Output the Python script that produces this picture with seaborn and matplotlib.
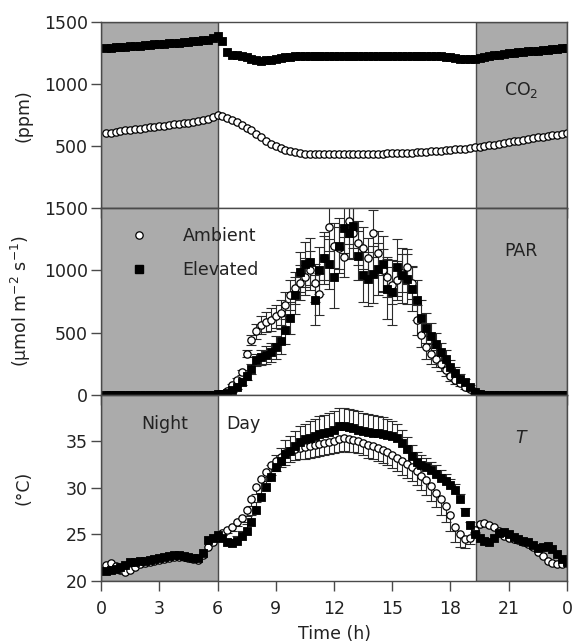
import numpy as np
import matplotlib
matplotlib.use("Agg")
import matplotlib.pyplot as plt
from matplotlib.lines import Line2D
import seaborn as sns

# Sampling times (h), every 15 min over one diel cycle
hours = np.arange(1, 97) * 0.25

# CO2 concentration (ppm)
co2_ambient = [
    605, 610, 616, 621, 627, 632, 637, 642,
    647, 652, 657, 662, 667, 672, 677, 682,
    686, 691, 696, 701, 712, 722, 735, 748,
    742, 728, 712, 695, 672, 650, 628, 600,
    572, 546, 522, 502, 486, 470, 458, 450,
    444, 440, 437, 435, 434, 434, 434, 435,
    435, 436, 436, 437, 437, 438, 438, 439,
    440, 441, 442, 443, 444, 445, 447, 449,
    451, 453, 455, 458, 461, 464, 467, 470,
    474, 477, 481, 485, 490, 496, 502, 508,
    514, 520, 527, 533, 540, 546, 553, 559,
    565, 571, 577, 583, 589, 594, 600, 605,
]
co2_elevated = [
    1290, 1293, 1296, 1299, 1302, 1305, 1308, 1311,
    1314, 1317, 1320, 1323, 1326, 1329, 1332, 1335,
    1338, 1341, 1344, 1348, 1352, 1358, 1372, 1385,
    1345, 1260, 1235, 1232, 1228, 1215, 1200, 1192,
    1190, 1192, 1198, 1205, 1212, 1218, 1222, 1224,
    1225, 1226, 1226, 1227, 1227, 1228, 1228, 1228,
    1228, 1228, 1228, 1228, 1228, 1228, 1228, 1228,
    1228, 1227, 1227, 1227, 1226, 1226, 1226, 1226,
    1226, 1226, 1225, 1225, 1225, 1224, 1222, 1220,
    1212, 1206, 1202, 1200, 1203, 1212, 1220, 1226,
    1232, 1237, 1242, 1247, 1251, 1255, 1259, 1263,
    1266, 1270, 1273, 1277, 1280, 1284, 1287, 1291,
]

# Photosynthetically active radiation (umol m-2 s-1) and its SE
par_ambient = [
    0, 0, 0, 0, 0, 0, 0, 0,
    0, 0, 0, 0, 0, 0, 0, 0,
    0, 0, 0, 0, 0, 0, 0, 2,
    8, 30, 75, 120, 180, 330, 440, 510,
    560, 585, 605, 630, 660, 720, 800, 860,
    900, 950, 1000, 900, 810, 1100, 1350, 1200,
    1180, 1110, 1395, 1300, 1220, 1180, 1100, 1300,
    1140, 1000, 950, 880, 920, 980, 1030, 900,
    600, 480, 380, 330, 290, 250, 200, 150,
    120, 95, 65, 45, 20, 5, 0, 0,
    0, 0, 0, 0, 0, 0, 0, 0,
    0, 0, 0, 0, 0, 0, 0, 0,
]
par_ambient_se = [
    0, 0, 0, 0, 0, 0, 0, 0,
    0, 0, 0, 0, 0, 0, 0, 0,
    0, 0, 0, 0, 0, 0, 0, 0,
    0, 5, 10, 15, 20, 30, 40, 60,
    70, 80, 90, 90, 100, 110, 120, 130,
    140, 150, 160, 150, 170, 180, 190, 180,
    170, 160, 180, 200, 180, 170, 160, 190,
    180, 170, 160, 150, 160, 150, 140, 130,
    120, 100, 90, 80, 70, 60, 50, 40,
    30, 25, 20, 15, 10, 0, 0, 0,
    0, 0, 0, 0, 0, 0, 0, 0,
    0, 0, 0, 0, 0, 0, 0, 0,
]
par_elevated = [
    0, 0, 0, 0, 0, 0, 0, 0,
    0, 0, 0, 0, 0, 0, 0, 0,
    0, 0, 0, 0, 0, 0, 0, 2,
    5, 15, 35, 60, 100, 150, 210, 280,
    300, 320, 340, 380, 430, 520, 620, 800,
    990, 1050, 1070, 760, 1000, 1100, 1050, 950,
    1200, 1340, 1300, 1360, 1120, 960, 930, 970,
    1010, 1054, 850, 825, 1027, 960, 930, 852,
    760, 620, 540, 476, 410, 340, 288, 220,
    175, 130, 99, 60, 19, 2, 0, 0,
    0, 0, 0, 0, 0, 0, 0, 0,
    0, 0, 0, 0, 0, 0, 0, 0,
]
par_elevated_se = [
    0, 0, 0, 0, 0, 0, 0, 0,
    0, 0, 0, 0, 0, 0, 0, 0,
    0, 0, 0, 0, 0, 0, 0, 0,
    0, 5, 10, 15, 20, 30, 40, 50,
    60, 70, 80, 90, 100, 110, 130, 150,
    160, 180, 190, 200, 190, 210, 200, 250,
    220, 200, 210, 180, 200, 210, 220, 230,
    210, 220, 240, 260, 230, 220, 200, 180,
    160, 140, 120, 100, 90, 80, 70, 60,
    50, 40, 30, 20, 10, 0, 0, 0,
    0, 0, 0, 0, 0, 0, 0, 0,
    0, 0, 0, 0, 0, 0, 0, 0,
]

# Air temperature (deg C) and its SE
temp_ambient = [
    21.7, 21.9, 21.6, 21.2, 21.0, 21.2, 21.5, 21.8,
    21.9, 22.0, 22.2, 22.3, 22.4, 22.5, 22.6, 22.6,
    22.6, 22.5, 22.4, 22.3, 22.8, 23.6, 24.2, 24.7,
    25.2, 25.5, 25.8, 26.3, 26.8, 27.6, 28.8, 30.1,
    30.9, 31.7, 32.4, 32.9, 33.3, 33.7, 34.0, 34.2,
    34.3, 34.4, 34.5, 34.6, 34.7, 34.8, 34.9, 35.0,
    35.2, 35.3, 35.2, 35.1, 35.0, 34.8, 34.6, 34.5,
    34.3, 34.1, 33.8, 33.5, 33.2, 32.9, 32.6, 32.2,
    31.8, 31.3, 30.8, 30.2, 29.5, 28.8, 28.0, 27.1,
    25.8, 25.0, 24.5, 24.6, 25.5, 26.1, 26.2, 26.0,
    25.8, 25.4, 24.8, 24.6, 24.5, 24.4, 24.2, 24.0,
    23.6, 23.1, 22.7, 22.2, 21.9, 21.8, 21.8, 21.9,
]
temp_ambient_se = [
    0, 0, 0, 0, 0, 0, 0, 0,
    0, 0, 0, 0, 0, 0, 0, 0,
    0, 0, 0, 0, 0, 0, 0, 0,
    0.3, 0.3, 0.4, 0.4, 0.5, 0.6, 0.7, 0.8,
    0.9, 1.0, 1.0, 1.1, 1.1, 1.2, 1.2, 1.2,
    1.2, 1.3, 1.3, 1.3, 1.3, 1.3, 1.3, 1.3,
    1.3, 1.3, 1.3, 1.3, 1.3, 1.3, 1.4, 1.4,
    1.4, 1.4, 1.4, 1.4, 1.4, 1.5, 1.5, 1.5,
    1.5, 1.5, 1.6, 1.6, 1.6, 1.7, 1.7, 1.7,
    1.6, 1.4, 1.0, 0.6, 0.3, 0, 0, 0,
    0, 0, 0, 0, 0, 0, 0, 0,
    0, 0, 0, 0, 0, 0, 0, 0,
]
temp_elevated = [
    21.1, 21.2, 21.3, 21.5, 21.7, 22.0, 22.0, 22.1,
    22.2, 22.3, 22.4, 22.5, 22.6, 22.7, 22.8, 22.8,
    22.7, 22.6, 22.5, 22.5, 23.0, 24.4, 24.6, 24.9,
    24.6, 24.2, 24.1, 24.3, 24.8, 25.4, 26.3, 27.6,
    29.0, 30.1, 31.2, 32.2, 32.9, 33.6, 34.0, 34.5,
    34.9, 35.2, 35.4, 35.6, 35.8, 35.9, 36.0, 36.2,
    36.6, 36.6, 36.5, 36.4, 36.2, 36.1, 36.0, 35.9,
    35.9, 35.8, 35.7, 35.6, 35.3, 34.8, 34.2, 33.4,
    32.8, 32.5, 32.2, 31.9, 31.5, 31.1, 30.7, 30.3,
    29.8, 28.8, 27.4, 26.0, 25.0, 24.6, 24.3, 24.2,
    24.6, 25.2, 25.3, 25.0, 24.7, 24.5, 24.3, 24.2,
    23.9, 23.5, 23.6, 23.8, 23.4, 22.9, 22.4, 22.0,
]
temp_elevated_se = [
    0, 0, 0, 0, 0, 0, 0, 0,
    0, 0, 0, 0, 0, 0, 0, 0,
    0, 0, 0, 0, 0, 0, 0, 0,
    0.3, 0.3, 0.4, 0.5, 0.6, 0.7, 0.8, 0.9,
    1.0, 1.1, 1.2, 1.3, 1.4, 1.5, 1.6, 1.6,
    1.7, 1.7, 1.8, 1.8, 1.9, 1.9, 2.0, 2.0,
    2.0, 2.0, 2.0, 2.0, 2.0, 1.9, 1.9, 1.9,
    1.8, 1.8, 1.7, 1.6, 1.5, 1.4, 1.3, 1.2,
    1.1, 1.0, 1.0, 0.9, 0.9, 0.8, 0.8, 0.7,
    0.6, 0.5, 0.4, 0.3, 0.3, 0, 0, 0,
    0, 0, 0, 0, 0, 0, 0, 0,
    0, 0, 0, 0, 0, 0, 0, 0,
]

x_ticks = [0, 3, 6, 9, 12, 15, 18, 21, 24]
x_tick_labels = ["0", "3", "6", "9", "12", "15", "18", "21", "0"]
sunrise, sunset = 6.0, 19.3

sns.set_theme(style="ticks")
plt.rcParams["font.family"] = ["DejaVu Sans"]
plt.rcParams["mathtext.fontset"] = "dejavusans"

EDGE = "#4a4a4a"
SHADE = "#ababab"
TXT = "#222222"
FS = 12.5

fig, axes = plt.subplots(3, 1, figsize=(5.73, 6.44), dpi=100, sharex=True)
fig.subplots_adjust(left=0.1763, right=0.9895, top=0.9658, bottom=0.0978, hspace=0)

MS_SQ = 34  # square marker area (pt^2)
MS_CI = 28  # circle marker area (pt^2)


def draw_errors(ax, t, y, lo, hi, color="#2b2b2b"):
    t = np.asarray(t); y = np.asarray(y, float)
    lo = np.asarray(lo, float); hi = np.asarray(hi, float)
    m = (lo + hi) > 0
    ax.vlines(t[m], (y - lo)[m], (y + hi)[m], color=color, lw=0.8, zorder=2)
    up = m & (hi > 0)
    dn = m & (lo > 0)
    ax.scatter(t[up], (y + hi)[up], marker="_", s=45, color=color, linewidths=0.8, zorder=2)
    ax.scatter(t[dn], (y - lo)[dn], marker="_", s=45, color=color, linewidths=0.8, zorder=2)


def draw_series(ax, t, amb, elev):
    # open circles first, filled squares drawn over them
    sns.scatterplot(x=t, y=amb, ax=ax, marker="o", s=MS_CI, color="white",
                    edgecolor="black", linewidth=0.9, zorder=3, legend=False)
    sns.scatterplot(x=t, y=elev, ax=ax, marker="s", s=MS_SQ, color="black",
                    edgecolor="black", linewidth=0.6, zorder=4, legend=False)


for ax in axes:
    ax.axvspan(0, sunrise, facecolor=SHADE, edgecolor=EDGE, lw=1.0, zorder=0)
    ax.axvspan(sunset, 24, facecolor=SHADE, edgecolor=EDGE, lw=1.0, zorder=0)
    for s in ax.spines.values():
        s.set_color(EDGE)
        s.set_linewidth(1.0)
        s.set_zorder(5)
    ax.tick_params(axis="both", direction="out", length=7, width=1.0, color=EDGE,
                   labelsize=FS, labelcolor=TXT, pad=2.5)
    ax.set_xlim(0, 24)

# CO2
ax = axes[0]
draw_series(ax, hours, co2_ambient, co2_elevated)
ax.set_ylim(0, 1500)
ax.set_yticks([500, 1000, 1500])
ax.set_ylabel("(ppm)", fontsize=FS, color=TXT)
ax.text(21.65, 950, "CO$_2$", fontsize=FS, color=TXT, ha="center", va="center")

# PAR
ax = axes[1]
draw_errors(ax, hours, par_ambient, par_ambient_se, par_ambient_se)
draw_errors(ax, hours, par_elevated, par_elevated_se, par_elevated_se)
draw_series(ax, hours, par_ambient, par_elevated)
ax.set_ylim(0, 1500)
ax.set_yticks([0, 500, 1000, 1500])
ax.set_ylabel("(\u03bcmol m$^{-2}$ s$^{-1}$)", fontsize=FS, color=TXT)
ax.text(21.65, 1160, "PAR", fontsize=FS, color=TXT, ha="center", va="center")
handles = [
    Line2D([], [], ls="none", marker="o", ms=5.3, mfc="white", mec="black", mew=0.9),
    Line2D([], [], ls="none", marker="s", ms=5.8, mfc="black", mec="black"),
]
ax.legend(handles, ["Ambient", "Elevated"], loc="upper left", bbox_to_anchor=(0.063, 0.9),
          frameon=False, fontsize=FS, handlelength=1.0, handletextpad=2.0,
          labelspacing=0.9, borderpad=0, borderaxespad=0, labelcolor=TXT)

# Temperature
ax = axes[2]
draw_errors(ax, hours, temp_elevated, np.zeros(96), temp_elevated_se)
draw_errors(ax, hours, temp_ambient, temp_ambient_se, np.zeros(96))
draw_series(ax, hours, temp_ambient, temp_elevated)
ax.set_ylim(20, 40)
ax.set_yticks([20, 25, 30, 35])
ax.set_ylabel("(\u00b0C)", fontsize=FS, color=TXT)
ax.text(21.7, 35.3, "$T$", fontsize=FS, color=TXT, ha="center", va="center")
ax.text(3.3, 36.9, "Night", fontsize=FS, color=TXT, ha="center", va="center")
ax.text(7.35, 36.8, "Day", fontsize=FS, color=TXT, ha="center", va="center")
ax.set_xticks(x_ticks)
ax.set_xticklabels(x_tick_labels)
ax.tick_params(axis="x", pad=7)
ax.set_xlabel("Time (h)", fontsize=FS, color=TXT, labelpad=5)

for ax in axes:
    ax.yaxis.set_label_coords(-0.146, 0.5)

fig.savefig("out.png", dpi=100)
